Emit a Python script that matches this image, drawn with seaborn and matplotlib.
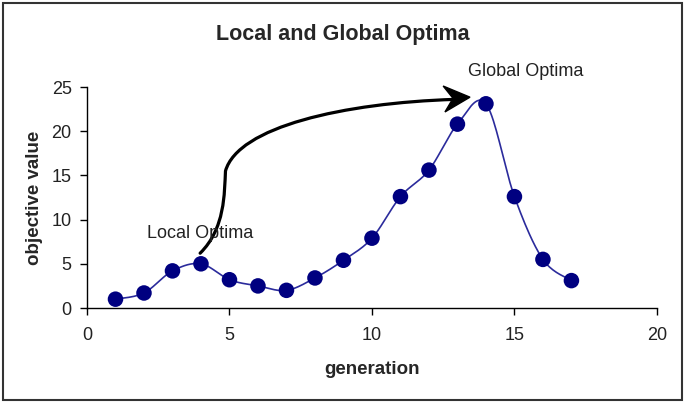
import numpy as np
import matplotlib
matplotlib.use("Agg")
import matplotlib.pyplot as plt
import seaborn as sns
from matplotlib.path import Path
from matplotlib.patches import FancyArrowPatch, Rectangle, Polygon
from matplotlib.transforms import Affine2D

generation = [1, 2, 3, 4, 5, 6, 7, 8, 9, 10, 11, 12, 13, 14, 15, 16, 17]
objective = [1.0, 1.7, 4.2, 5.0, 3.2, 2.5, 2.0, 3.4, 5.4, 7.9, 12.6, 15.6, 20.8, 23.1, 12.6, 5.5, 3.1]


def smooth(x, y, n=20):
    # catmull-rom curve through the points, like excel's smoothed line
    x = np.asarray(x, float)
    y = np.asarray(y, float)
    px = np.r_[x[0], x, x[-1]]
    py = np.r_[y[0], y, y[-1]]
    t = np.linspace(0, 1, n)[:, None]
    xs, ys = [], []
    for i in range(1, len(px) - 2):
        for arr, out in ((px, xs), (py, ys)):
            p0, p1, p2, p3 = arr[i - 1], arr[i], arr[i + 1], arr[i + 2]
            seg = 0.5 * ((2 * p1) + (-p0 + p2) * t + (2 * p0 - 5 * p1 + 4 * p2 - p3) * t ** 2
                         + (-p0 + 3 * p1 - 3 * p2 + p3) * t ** 3)
            out.append(seg.ravel())
    return np.concatenate(xs), np.concatenate(ys)


sns.set_style("white")
plt.rcParams["font.family"] = ["Liberation Sans", "DejaVu Sans"]

fig = plt.figure(figsize=(6.85, 4.03), dpi=100)
ax = fig.add_axes([0.127, 0.2357, 0.832, 0.5484])

sx, sy = smooth(generation, objective)
ax.plot(sx, sy, color="#2b2b9c", lw=1.2, zorder=2)
sns.scatterplot(x=generation, y=objective, ax=ax, color="#000080", s=125,
                edgecolor="none", zorder=3, legend=False)

ax.set_xlim(0, 20)
ax.set_ylim(0, 25)
ax.set_xticks([0, 5, 10, 15, 20])
ax.set_yticks([0, 5, 10, 15, 20, 25])
ax.tick_params(axis="both", direction="out", length=5, width=1, colors="black",
               labelsize=13, labelcolor="#222222", bottom=True, left=True)
ax.tick_params(axis="x", pad=9)
ax.tick_params(axis="y", pad=6)
for side in ["top", "right"]:
    ax.spines[side].set_visible(False)
for side in ["left", "bottom"]:
    ax.spines[side].set_color("black")
    ax.spines[side].set_linewidth(1)

ax.set_xlabel("generation", fontsize=13.5, fontweight="bold", labelpad=12)
ax.set_ylabel("objective value", fontsize=13.5, fontweight="bold", labelpad=6)
fig.suptitle("Local and Global Optima", x=0.5, y=0.94, fontsize=15.5, fontweight="bold")

ax.text(3.97, 8.4, "Local Optima", ha="center", va="center", fontsize=13, color="#222222")
ax.text(15.4, 26.8, "Global Optima", ha="center", va="center", fontsize=13,
        color="#222222", clip_on=False)

# curved arrow from the local to the global optimum
verts = [(3.97, 6.2), (4.85, 9.0), (4.82, 13.0), (4.86, 15.5),
         (5.3, 20.5), (9.0, 23.2), (12.9, 23.6)]
codes = [Path.MOVETO, Path.CURVE4, Path.CURVE4, Path.CURVE4,
         Path.CURVE4, Path.CURVE4, Path.CURVE4]
arrow = FancyArrowPatch(path=Path(verts, codes), arrowstyle="-", color="black",
                        lw=2.3, clip_on=False)
ax.add_patch(arrow)

# stealth-style head, drawn in pixel units around the tip
tip = ax.transData.transform((13.44, 23.85))
head = Polygon([(0, 0), (-26, 13), (-17, 0), (-26, -13)], closed=True,
               facecolor="black", edgecolor="black", lw=1,
               transform=Affine2D().rotate_deg(4).translate(*tip), clip_on=False)
fig.patches.append(head)

fig.patches.append(Rectangle((0.004, 0.008), 0.991, 0.985, transform=fig.transFigure,
                             fill=False, edgecolor="#333333", lw=1.5))

fig.savefig("out.png", dpi=100)
